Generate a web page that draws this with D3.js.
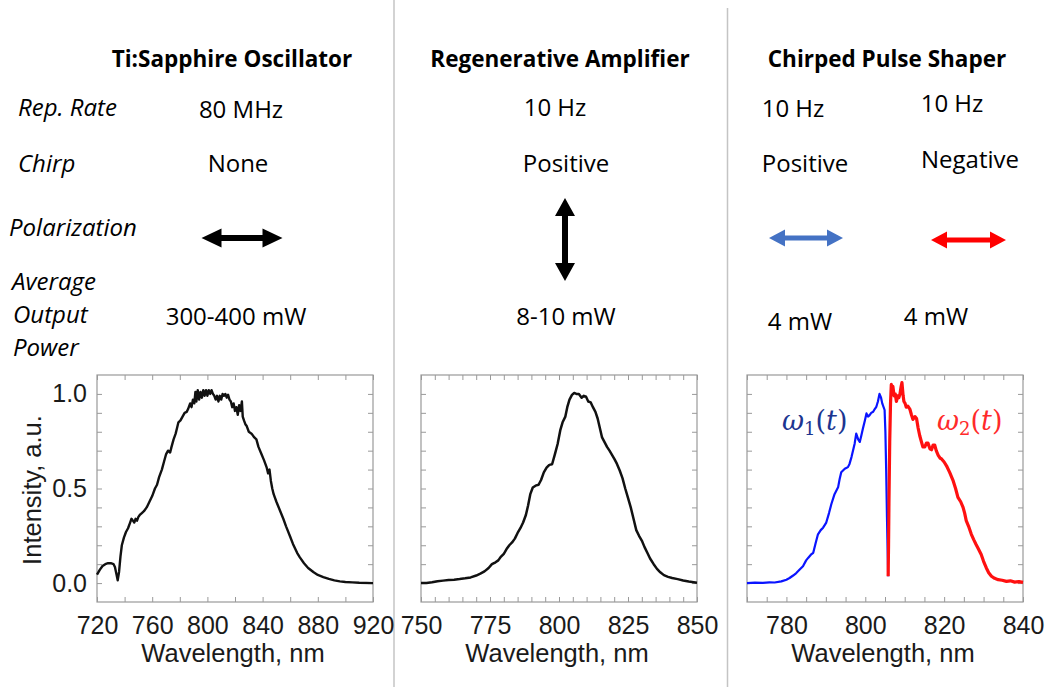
<!DOCTYPE html>
<html>
<head>
<meta charset="utf-8">
<script src="https://cdn.jsdelivr.net/npm/d3@7"></script>
<style>
  body { margin: 0; background: #fff; }
  svg { display: block; }
</style>
</head>
<body>
<script>
// table text
const titles = ['Ti:Sapphire Oscillator', 'Regenerative Amplifier', 'Chirped Pulse Shaper']
const rowLabels = ['Rep. Rate', 'Chirp', 'Polarization', 'Average', 'Output', 'Power']
const repRates = ['80 MHz', '10 Hz', '10 Hz', '10 Hz']
const chirps = ['None', 'Positive', 'Positive', 'Negative']
const powers = ['300-400 mW', '8-10 mW', '4 mW', '4 mW']
const arrowColors = ['#000', '#000', '#4472c4', '#ff0000']

// spectra, [wavelength nm, intensity a.u.]
const oscillator = [[720,0.045],[722,0.07],[724,0.09],[726,0.10],[728,0.105],[730,0.105],[732,0.10],[733,0.085],[734,0.05],[735,0.015],[736,0.06],[737,0.14],[738,0.2],[739.5,0.24],[741,0.27],[742.5,0.29],[744,0.32],[745,0.34],[746,0.33],[747,0.32],[748,0.34],[749,0.33],[750,0.35],[751,0.36],[752.5,0.37],[754,0.38],[756,0.40],[758,0.43],[760,0.46],[762,0.5],[763.5,0.52],[765,0.56],[767,0.6],[768.5,0.64],[770,0.68],[771.5,0.70],[773,0.69],[774,0.72],[775.5,0.76],[777,0.79],[778,0.82],[779,0.85],[780.5,0.86],[782,0.88],[783.5,0.9],[785,0.905],[786,0.92],[787.5,0.95],[788.5,0.93],[789.5,0.97],[790.5,0.95],[791.3,1.01],[792,0.96],[793,1.02],[794,0.97],[795,1.01],[796,0.98],[797,1.02],[798,0.99],[799,1.02],[800,0.99],[801,1.02],[802,1.0],[803,1.02],[804,1.0],[805,0.99],[806,0.97],[807,0.99],[808,0.96],[809,0.99],[810,0.97],[811,1.0],[812,0.99],[813,1.0],[814,0.98],[815,0.995],[816,0.97],[817,0.96],[818,0.93],[819,0.95],[820,0.91],[821,0.93],[822,0.89],[823,0.94],[824,0.91],[825,0.96],[825.6,0.88],[826.5,0.86],[827.5,0.84],[828.5,0.83],[830,0.80],[832,0.79],[834,0.77],[835.5,0.76],[837,0.72],[839,0.685],[841,0.65],[843,0.61],[844,0.58],[845,0.6],[846,0.54],[847,0.5],[848,0.47],[850,0.43],[852.5,0.385],[855,0.34],[857,0.3],[860,0.245],[862,0.207],[865,0.16],[867,0.136],[870,0.105],[873,0.08],[877,0.057],[880,0.043],[884,0.032],[888,0.022],[892,0.014],[896,0.009],[900,0.006],[905,0.004],[910,0.002],[920,0.0]]

const amplifier = [[750,0.0],[752,0.0],[754,0.004],[756,0.01],[758,0.013],[760,0.016],[762,0.018],[764,0.021],[766,0.025],[768,0.03],[770,0.04],[771.5,0.05],[773,0.062],[774.5,0.08],[775.7,0.10],[777,0.11],[778,0.12],[779,0.14],[780,0.155],[781,0.18],[782,0.2],[783,0.215],[784,0.235],[785,0.265],[786,0.29],[787,0.32],[788,0.36],[788.8,0.41],[789.6,0.47],[790.5,0.505],[791.5,0.515],[792.6,0.52],[793.5,0.545],[794.5,0.585],[795.5,0.61],[796.5,0.625],[797.5,0.628],[798.5,0.68],[799.5,0.735],[800.5,0.81],[801.3,0.85],[802.3,0.88],[803,0.93],[803.8,0.97],[804.7,0.995],[805.5,1.005],[806.3,1.0],[807.2,1.0],[808.2,0.98],[809,0.99],[809.8,0.985],[810.6,0.96],[811.5,0.955],[812.3,0.93],[813.2,0.905],[814,0.87],[814.8,0.82],[815.6,0.77],[816.5,0.745],[817.4,0.72],[818.3,0.7],[819.2,0.678],[820.1,0.655],[821,0.63],[822,0.595],[823,0.555],[824,0.5],[825,0.45],[826,0.4],[827,0.34],[828,0.28],[829,0.25],[830,0.225],[831,0.19],[832,0.16],[833,0.13],[834.3,0.10],[835.5,0.075],[836.7,0.057],[838,0.042],[839.5,0.033],[841,0.027],[843,0.021],[845,0.014],[847,0.008],[850,0.002]]

const omega1 = [[770,0.0],[772,0.002],[774,0.001],[775.7,0.004],[777,0.003],[778.7,0.009],[780,0.018],[780.8,0.027],[781.7,0.04],[782.5,0.053],[783.3,0.07],[784.2,0.089],[785,0.12],[785.5,0.133],[786.2,0.15],[786.8,0.16],[787.4,0.21],[788,0.258],[788.7,0.28],[789.3,0.293],[790.1,0.32],[790.8,0.37],[791.4,0.418],[792.2,0.47],[793.1,0.506],[793.5,0.55],[793.9,0.586],[794.8,0.604],[795.6,0.613],[796,0.63],[796.5,0.666],[797.3,0.737],[797.7,0.79],[798.2,0.76],[798.6,0.746],[799,0.78],[799.4,0.817],[799.9,0.86],[800.3,0.897],[800.7,0.88],[801.1,0.888],[801.5,0.9],[802,0.906],[802.4,0.92],[802.8,0.932],[803.2,0.96],[803.6,1.0],[804,0.98],[804.3,0.95],[804.9,0.915],[805.1,0.8],[805.3,0.595],[805.5,0.35],[805.6,0.24],[805.8,0.036]]

const omega2 = [[805.8,0.036],[805.9,0.2],[806,0.42],[806.2,0.75],[806.4,0.95],[806.6,1.05],[806.8,1.0],[807,1.04],[807.3,0.99],[807.6,1.0],[807.9,0.96],[808.2,0.99],[808.5,0.98],[808.8,1.0],[809.1,1.04],[809.3,1.06],[809.6,0.99],[809.8,0.96],[810.1,0.95],[810.4,0.93],[810.8,0.935],[811.3,0.92],[811.7,0.89],[812.1,0.865],[812.6,0.88],[813,0.87],[813.4,0.82],[813.8,0.78],[814.2,0.75],[814.6,0.72],[815.1,0.72],[815.5,0.74],[815.9,0.74],[816.4,0.71],[816.8,0.705],[817.2,0.73],[817.6,0.73],[818,0.7],[818.5,0.675],[819,0.66],[819.3,0.657],[820,0.64],[820.6,0.62],[821.4,0.585],[822.3,0.54],[822.9,0.5],[823.5,0.453],[824.2,0.43],[824.8,0.40],[825.2,0.37],[825.6,0.33],[826.2,0.3],[826.9,0.258],[827.5,0.23],[828.1,0.204],[828.7,0.18],[829.4,0.151],[830,0.115],[830.7,0.08],[831.3,0.055],[832,0.036],[832.8,0.025],[833.7,0.018],[834.7,0.015],[835.8,0.009],[836.8,0.012],[837.9,0.005],[839,0.008],[840,0.004]]

const width = 1047
const height = 687
const svg = d3.select('body').append('svg')
  .attr('width', width)
  .attr('height', height)

const sans = '"Open Sans", "Noto Sans", sans-serif'
const arial = '"Liberation Sans", Arial, sans-serif'

// panel separators
svg.append('line').attr('x1', 394).attr('x2', 394).attr('y1', 0).attr('y2', height)
  .attr('stroke', '#c4c4c4').attr('stroke-width', 1.5)
svg.append('line').attr('x1', 727.5).attr('x2', 727.5).attr('y1', 8).attr('y2', height)
  .attr('stroke', '#c4c4c4').attr('stroke-width', 1.5)

// titles
const titleX = [232, 560, 887]
svg.selectAll('.title').data(titles).enter().append('text')
  .attr('class', 'title')
  .attr('x', (d, i) => titleX[i])
  .attr('y', 67)
  .attr('text-anchor', 'middle')
  .style('font-family', sans)
  .style('font-weight', 700)
  .style('font-size', '22.5px')
  .text(d => d)

// row labels (italic)
const rowPos = [[18, 116], [18, 172], [9, 236], [12, 290], [13, 323], [13, 356]]
svg.selectAll('.rowlab').data(rowLabels).enter().append('text')
  .attr('class', 'rowlab')
  .attr('x', (d, i) => rowPos[i][0])
  .attr('y', (d, i) => rowPos[i][1])
  .style('font-family', sans)
  .style('font-style', 'italic')
  .style('font-size', '24px')
  .text(d => d)

// values, one column per beam
const colX = [241, 555, 793, 952]
const repY = [118, 116, 117, 112]
const chirpX = [238, 566, 805, 970]
const chirpY = [172, 172, 172, 168]
const powerX = [236, 566, 800, 936]
const powerY = [325, 325, 330, 325]

function valueText(cls, arr, xs, ys) {
  svg.selectAll('.' + cls).data(arr).enter().append('text')
    .attr('class', cls)
    .attr('x', (d, i) => xs[i])
    .attr('y', (d, i) => ys[i])
    .attr('text-anchor', 'middle')
    .style('font-family', sans)
    .style('font-size', '24px')
    .text(d => d)
}
valueText('rep', repRates, colX, repY)
valueText('chirp', chirps, chirpX, chirpY)
valueText('power', powers, powerX, powerY)

// polarization arrows
function dblArrow(L, h, w, t) {
  const a = L / 2
  return `M${-a},0 L${-a + h},${-w} L${-a + h},${-t} L${a - h},${-t} L${a - h},${-w} L${a},0 ` +
    `L${a - h},${w} L${a - h},${t} L${-a + h},${t} L${-a + h},${w} Z`
}
const arrows = [
  { cx: 242, cy: 238, L: 81, h: 20, w: 9.5, t: 3, rot: 0 },
  { cx: 565, cy: 239.5, L: 83, h: 18, w: 10, t: 3, rot: 90 },
  { cx: 806, cy: 238, L: 74, h: 16, w: 8.5, t: 2.5, rot: 0 },
  { cx: 968.5, cy: 240, L: 75, h: 16, w: 8.5, t: 2.5, rot: 0 }
]
svg.selectAll('.arrow').data(arrows).enter().append('path')
  .attr('class', 'arrow')
  .attr('transform', d => `translate(${d.cx},${d.cy}) rotate(${d.rot})`)
  .attr('d', d => dblArrow(d.L, d.h, d.w, d.t))
  .attr('fill', (d, i) => arrowColors[i])

// spectra panels
const y = d3.scaleLinear().domain([-0.1, 1.1]).range([602, 375])
const yTicks = d3.range(0, 11).map(i => i / 10)

const panels = [
  { x: d3.scaleLinear().domain([720, 920]).range([97, 373]), step: 20, label: 40, yLabels: true },
  { x: d3.scaleLinear().domain([750, 850]).range([421, 697]), step: 5, label: 25 },
  { x: d3.scaleLinear().domain([770, 840]).range([747, 1023]), step: 5, label: 20 }
]

panels.forEach((p, k) => {
  const [x0, x1] = p.x.range()
  const [d0, d1] = p.x.domain()
  const ticks = d3.range(0, Math.round((d1 - d0) / p.step) + 1).map(i => d0 + i * p.step)
  const g = svg.append('g')

  const bottom = g.append('g').attr('transform', 'translate(0,602)')
    .call(d3.axisBottom(p.x).tickValues(ticks).tickSizeInner(-5).tickSizeOuter(0).tickPadding(14)
      .tickFormat(d => d % p.label === 0 ? d : ''))
  const top = g.append('g').attr('transform', 'translate(0,375)')
    .call(d3.axisTop(p.x).tickValues(ticks).tickSizeInner(-5).tickSizeOuter(0).tickFormat(''))
  const left = g.append('g').attr('transform', `translate(${x0},0)`)
    .call(d3.axisLeft(y).tickValues(yTicks).tickSizeInner(-5).tickSizeOuter(0).tickPadding(10)
      .tickFormat(d => p.yLabels && Math.abs(d * 2 - Math.round(d * 2)) < 1e-9 ? d3.format('.1f')(d) : ''))
  const right = g.append('g').attr('transform', `translate(${x1},0)`)
    .call(d3.axisRight(y).tickValues(yTicks).tickSizeInner(-5).tickSizeOuter(0).tickFormat(''))

  ;[bottom, top, left, right].forEach(a => {
    a.select('.domain').remove()
    a.selectAll('line').attr('stroke', '#999')
    a.selectAll('text').style('font-family', arial).style('font-size', '25px').attr('fill', '#1a1a1a')
  })

  g.append('rect')
    .attr('x', x0).attr('y', 375)
    .attr('width', x1 - x0).attr('height', 602 - 375)
    .attr('fill', 'none').attr('stroke', '#999').attr('stroke-width', 1.2)

  g.append('text')
    .attr('x', (x0 + x1) / 2 - 2)
    .attr('y', 662)
    .attr('text-anchor', 'middle')
    .style('font-family', arial)
    .style('font-size', '25.5px')
    .attr('fill', '#1a1a1a')
    .text('Wavelength, nm')

  p.g = g
})

svg.append('text')
  .attr('transform', 'translate(41,490) rotate(-90)')
  .attr('text-anchor', 'middle')
  .style('font-family', arial)
  .style('font-size', '25.5px')
  .attr('fill', '#1a1a1a')
  .text('Intensity, a.u.')

function drawLine(p, data, color, w) {
  p.g.append('path')
    .datum(data)
    .attr('fill', 'none')
    .attr('stroke', color)
    .attr('stroke-width', w)
    .attr('stroke-linejoin', 'round')
    .attr('d', d3.line().x(d => p.x(d[0])).y(d => y(d[1])))
}
drawLine(panels[0], oscillator, '#111', 2.4)
drawLine(panels[1], amplifier, '#111', 2.5)
drawLine(panels[2], omega1, '#0a14ff', 2.2)
drawLine(panels[2], omega2, '#ff1010', 3.2)

// omega labels
function omegaLabel(xp, yp, sub, color) {
  const t = svg.append('text')
    .attr('x', xp).attr('y', yp)
    .attr('fill', color)
    .style('font-family', '"DejaVu Serif", "Liberation Serif", serif')
    .style('font-size', '27px')
  t.append('tspan').style('font-style', 'italic').text('ω')
  t.append('tspan').attr('dy', 5).style('font-size', '18px').text(sub)
  t.append('tspan').attr('dy', -5).text('(')
  t.append('tspan').style('font-style', 'italic').text('t')
  t.append('tspan').text(')')
}
omegaLabel(782, 430, '1', '#1c3590')
omegaLabel(937, 430, '2', '#ff2a2a')
</script>
</body>
</html>
